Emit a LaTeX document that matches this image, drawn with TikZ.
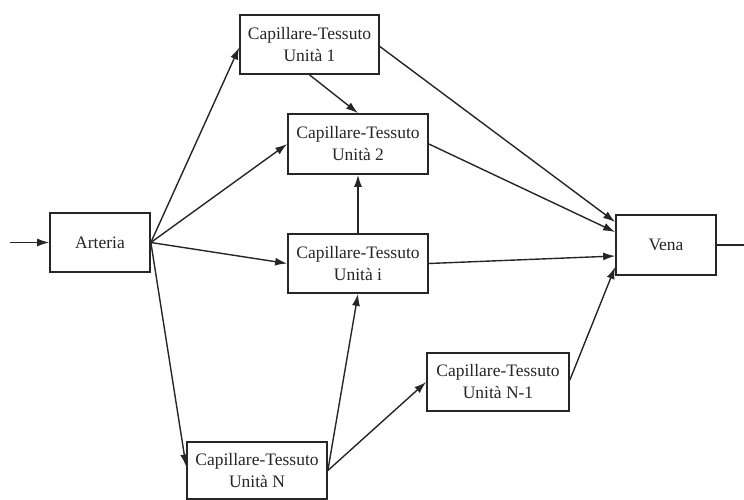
\documentclass[tikz,border=0pt]{standalone}
\usepackage{fontspec}
\setmainfont{Liberation Serif}
\usetikzlibrary{arrows.meta}
\definecolor{ink}{gray}{0.15}
\tikzset{
  box/.style={draw=ink, line width=1.7pt, fill=white, align=center, inner sep=0pt,
    text=ink, font=\fontsize{17.5}{22}\selectfont},
  conn/.style={draw=ink, line width=1.4pt, -{Latex[length=12pt,width=8pt]}},
  plain/.style={draw=ink, line width=1.4pt}
}
\begin{document}
\begin{tikzpicture}[x=1pt,y=-1pt]
\useasboundingbox (0,0) rectangle (744,500);
\node[box, minimum width=100pt, minimum height=59pt] (art) at (100,242.5) {Arteria};
\node[box, minimum width=139pt, minimum height=59pt] (u1) at (309.5,44.5) {Capillare-Tessuto\\Unità 1};
\node[box, minimum width=140pt, minimum height=60pt] (u2) at (358,144) {Capillare-Tessuto\\Unità 2};
\node[box, minimum width=140pt, minimum height=59pt] (ui) at (358,263.5) {Capillare-Tessuto\\Unità i};
\node[box, minimum width=140pt, minimum height=57pt] (un) at (257,470.5) {Capillare-Tessuto\\Unità N};
\node[box, minimum width=142pt, minimum height=58pt] (n1) at (498,382) {Capillare-Tessuto\\Unità N-1};
\node[box, minimum width=100pt, minimum height=60pt] (vena) at (666,245) {Vena};
\coordinate (in) at (10,242.5);
\coordinate (out) at (744,245);
\draw[conn] (in) -- (art.west);
\draw[plain] (vena.east) -- (out);
\draw[conn] (art.east) -- ([yshift=-3pt]u1.west);
\draw[conn] (art.east) -- (u2.west);
\draw[conn] (art.east) -- (ui.west);
\draw[conn] (art.east) -- ([yshift=4pt]un.west);
\draw[conn] (u1.south) -- (u2.north);
\draw[conn] (ui.north) -- (u2.south);
\draw[conn] (un.east) -- (ui.south);
\draw[conn] (un.east) -- (n1.west);
\draw[conn] ([yshift=-2pt]u1.east) -- ([yshift=23pt]vena.west);
\draw[conn] (u2.east) -- ([yshift=13pt]vena.west);
\draw[conn] (ui.east) -- ([yshift=-11pt]vena.west);
\draw[conn] ([yshift=2pt]n1.east) -- ([yshift=-22pt]vena.west);
\end{tikzpicture}
\end{document}
